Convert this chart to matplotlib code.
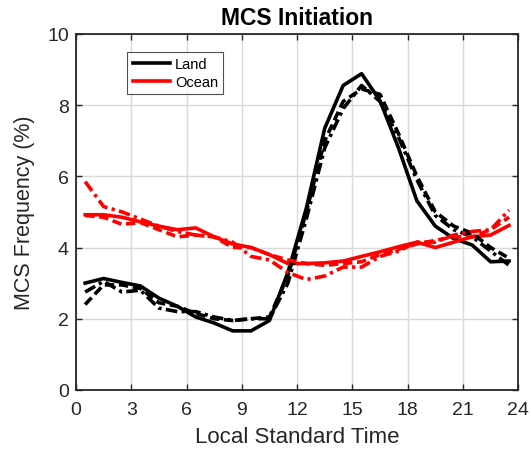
import numpy as np
import matplotlib
matplotlib.use("Agg")
import matplotlib.pyplot as plt

plt.rcParams['font.family'] = ['Liberation Sans', 'DejaVu Sans']

# hours (local standard time, bin centres)
hours = np.arange(0.5, 24, 1.0)

# Land
land_solid = [3.0, 3.13, 3.02, 2.92, 2.58, 2.35, 2.05, 1.88, 1.66, 1.66, 1.95, 3.3,
              5.1, 7.35, 8.55, 8.88, 8.12, 6.8, 5.31, 4.6, 4.25, 4.07, 3.6, 3.62]
land_dash = [2.4, 2.95, 2.95, 2.85, 2.45, 2.35, 2.15, 2.0, 1.95, 2.0, 2.05, 3.2,
             5.0, 7.0, 8.1, 8.45, 8.3, 7.2, 6.0, 5.0, 4.6, 4.4, 4.0, 3.7]
land_dashdot = [2.75, 3.05, 2.75, 2.8, 2.3, 2.2, 2.2, 2.05, 1.95, 2.0, 2.0, 3.0,
                4.8, 6.8, 7.9, 8.55, 8.1, 7.1, 5.9, 4.9, 4.5, 4.3, 3.9, 3.5]

# Ocean
ocean_solid = [4.92, 4.92, 4.85, 4.72, 4.6, 4.5, 4.55, 4.3, 4.1, 4.0, 3.8, 3.55,
               3.55, 3.57, 3.62, 3.75, 3.88, 4.02, 4.15, 4.0, 4.15, 4.3, 4.35, 4.62]
ocean_dash = [4.9, 4.85, 4.65, 4.7, 4.5, 4.3, 4.35, 4.3, 4.0, 4.0, 3.8, 3.65,
              3.55, 3.5, 3.55, 3.6, 3.8, 3.95, 4.1, 4.2, 4.3, 4.3, 4.5, 4.85]
ocean_dashdot = [5.85, 5.15, 5.0, 4.8, 4.6, 4.45, 4.35, 4.3, 4.15, 3.75, 3.65, 3.3,
                 3.1, 3.2, 3.45, 3.45, 3.75, 3.9, 4.15, 4.15, 4.35, 4.45, 4.5, 5.05]

fig = plt.figure(figsize=(5.31, 4.52), dpi=100)
ax = fig.add_axes([0.143, 0.135, 0.833, 0.788])

lw = 2.6
dash = (2.6, 1.3)
dashdot = (3.2, 1.2, 0.9, 1.2)
ax.plot(hours, land_solid, color='k', lw=lw, ls='-', label='Land')
ax.plot(hours, ocean_solid, color='r', lw=lw, ls='-', label='Ocean')
ax.plot(hours, land_dash, color='k', lw=lw, dashes=dash)
ax.plot(hours, land_dashdot, color='k', lw=lw, dashes=dashdot)
ax.plot(hours, ocean_dash, color='r', lw=lw, dashes=dash)
ax.plot(hours, ocean_dashdot, color='r', lw=lw, dashes=dashdot)

ax.set_xlim(0, 24)
ax.set_ylim(0, 10)
ax.set_xticks(np.arange(0, 25, 3))
ax.set_yticks(np.arange(0, 11, 2))
ax.grid(True, color='#d9d9d9', lw=1)
ax.set_axisbelow(True)
ax.tick_params(direction='in', top=True, right=True, labelsize=14,
               colors='#262626', length=4, width=1, pad=5)
ax.tick_params(axis='x', pad=8)
for s in ax.spines.values():
    s.set_color('#262626')
    s.set_linewidth(1.3)

ax.set_xlabel('Local Standard Time', fontsize=16, color='#262626', labelpad=6)
ax.set_ylabel('MCS Frequency (%)', fontsize=15.5, color='#262626', labelpad=9)
ax.set_title('MCS Initiation', fontsize=16.5, fontweight='bold', pad=7)

leg = ax.legend(loc='upper left', bbox_to_anchor=(0.10, 0.97), fontsize=10.5,
                frameon=True, fancybox=False, edgecolor='#262626',
                handlelength=2.6, borderpad=0.35, labelspacing=0.3,
                handletextpad=0.3)
leg.get_frame().set_linewidth(0.8)

fig.savefig('out.png', dpi=100)
